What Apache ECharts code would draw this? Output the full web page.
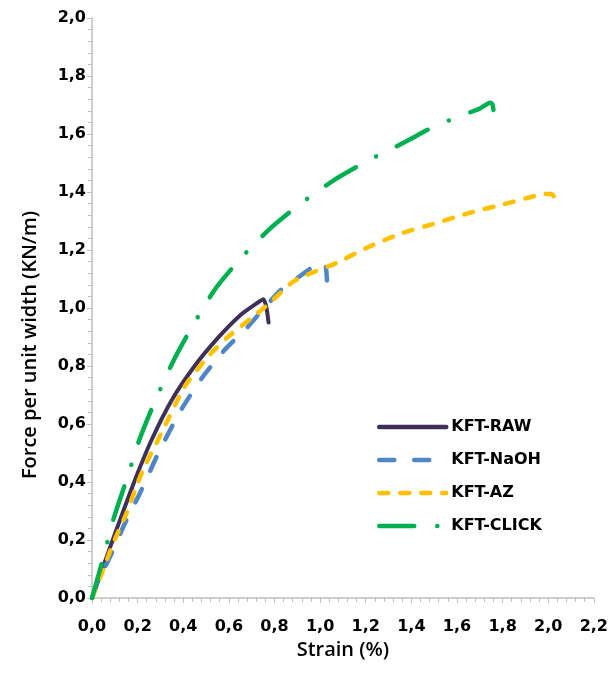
<!DOCTYPE html>
<html>
<head>
<meta charset="utf-8">
<script src="https://cdn.jsdelivr.net/npm/echarts@6/dist/echarts.min.js"></script>
<style>
  html, body { margin: 0; padding: 0; background: #ffffff; }
  #chart { width: 611px; height: 673px; }
</style>
</head>
<body>
<div id="chart"></div>
<script>
// Tensile curves: force per unit width against strain for four fabric treatments
const seriesNames = ['KFT-RAW', 'KFT-NaOH', 'KFT-AZ', 'KFT-CLICK'];
const xTickLabels = ['0,0', '0,2', '0,4', '0,6', '0,8', '1,0', '1,2', '1,4', '1,6', '1,8', '2,0', '2,2'];
const yTickLabels = ['0,0', '0,2', '0,4', '0,6', '0,8', '1,0', '1,2', '1,4', '1,6', '1,8', '2,0'];

const rawStrain = [0, 0.05, 0.10, 0.19, 0.26, 0.35, 0.45, 0.55, 0.65, 0.72, 0.752, 0.765, 0.774];
const rawForce  = [0, 0.11, 0.22, 0.41, 0.543, 0.683, 0.80, 0.895, 0.975, 1.015, 1.03, 1.0, 0.95];

const naohStrain = [0, 0.028, 0.079, 0.151, 0.21, 0.297, 0.39, 0.486, 0.581, 0.683, 0.755, 0.828, 0.93, 0.966, 1.0, 1.022, 1.03];
const naohForce  = [0, 0.06, 0.142, 0.269, 0.361, 0.51, 0.648, 0.763, 0.855, 0.935, 1.0, 1.062, 1.12, 1.14, 1.147, 1.152, 1.095];

const azStrain = [0, 0.05, 0.093, 0.151, 0.217, 0.304, 0.406, 0.508, 0.595, 0.697, 0.777, 0.872, 0.923, 1.068, 1.214, 1.359, 1.505, 1.651, 1.80, 1.92, 1.98, 2.015, 2.045];
const azForce  = [0, 0.1, 0.189, 0.292, 0.43, 0.568, 0.729, 0.832, 0.90, 0.964, 1.016, 1.085, 1.108, 1.154, 1.211, 1.258, 1.292, 1.327, 1.357, 1.382, 1.393, 1.393, 1.355];

const clickStrain = [0, 0.049, 0.093, 0.151, 0.21, 0.275, 0.355, 0.435, 0.537, 0.646, 0.777, 0.913, 1.061, 1.214, 1.374, 1.498, 1.614, 1.701, 1.745, 1.755, 1.76];
const clickForce  = [0, 0.137, 0.269, 0.407, 0.551, 0.677, 0.815, 0.93, 1.062, 1.166, 1.271, 1.359, 1.441, 1.51, 1.573, 1.625, 1.662, 1.688, 1.708, 1.703, 1.683];

const zip = (xs, ys) => xs.map((x, i) => [x, ys[i]]);

const axisGrey = '#bfbfbf';
const tickFont = { fontFamily: 'DejaVu Sans', fontWeight: 'bold', fontSize: 16, color: '#000000' };
const titleFont = { fontFamily: 'Open Sans', fontWeight: 600, fontSize: 20, color: '#000000' };

function curve(name, data, color, dash, width) {
  return {
    name: name,
    type: 'line',
    data: data,
    symbol: 'none',
    smooth: 0.2,
    lineStyle: { color: color, width: width, type: dash, cap: 'round', join: 'round' },
    itemStyle: { color: color }
  };
}

const chart = echarts.init(document.getElementById('chart'), null, { renderer: 'canvas' });
chart.setOption({
  backgroundColor: '#ffffff',
  animation: false,
  grid: { left: 92, right: 15, top: 18, bottom: 75 },
  xAxis: {
    type: 'value',
    min: 0, max: 2.2, interval: 0.2,
    name: 'Strain (%)',
    nameLocation: 'middle',
    nameGap: 42,
    nameTextStyle: titleFont,
    axisLine: { show: true, lineStyle: { color: axisGrey, width: 1.5 } },
    axisTick: { show: true, length: 5, lineStyle: { color: axisGrey, width: 1 } },
    minorTick: { show: true, splitNumber: 5, length: 4, lineStyle: { color: axisGrey, width: 1 } },
    splitLine: { show: false },
    axisLabel: Object.assign({ margin: 21, formatter: v => xTickLabels[Math.round(v / 0.2)] }, tickFont)
  },
  yAxis: {
    type: 'value',
    min: 0, max: 2.0, interval: 0.2,
    name: 'Force per unit width (KN/m)',
    nameLocation: 'middle',
    nameGap: 52,
    nameTextStyle: Object.assign({ padding: [0, 74, 0, 0] }, titleFont),
    axisLine: { show: true, lineStyle: { color: axisGrey, width: 1.5 } },
    axisTick: { show: true, length: 5, lineStyle: { color: axisGrey, width: 1 } },
    minorTick: { show: true, splitNumber: 5, length: 4, lineStyle: { color: axisGrey, width: 1 } },
    splitLine: { show: false },
    axisLabel: Object.assign({ margin: 6, formatter: v => yTickLabels[Math.round(v / 0.2)] }, tickFont)
  },
  legend: {
    orient: 'vertical',
    left: 372,
    top: 414,
    itemWidth: 67,
    itemHeight: 14,
    itemGap: 17,
    itemStyle: { opacity: 0 },
    lineStyle: { width: 4.5 },
    textStyle: { fontFamily: 'DejaVu Sans', fontWeight: 'bold', fontSize: 16, color: '#000000' },
    data: seriesNames
  },
  series: [
    curve(seriesNames[0], zip(rawStrain, rawForce), '#3f3057', 'solid', 4),
    curve(seriesNames[1], zip(naohStrain, naohForce), '#4f86c6', [15, 20], 4.5),
    curve(seriesNames[2], zip(azStrain, azForce), '#ffc000', [9, 12], 4.5),
    curve(seriesNames[3], zip(clickStrain, clickForce), '#00b050', [35, 23, 0.1, 23], 4.5)
  ]
});
</script>
</body>
</html>
